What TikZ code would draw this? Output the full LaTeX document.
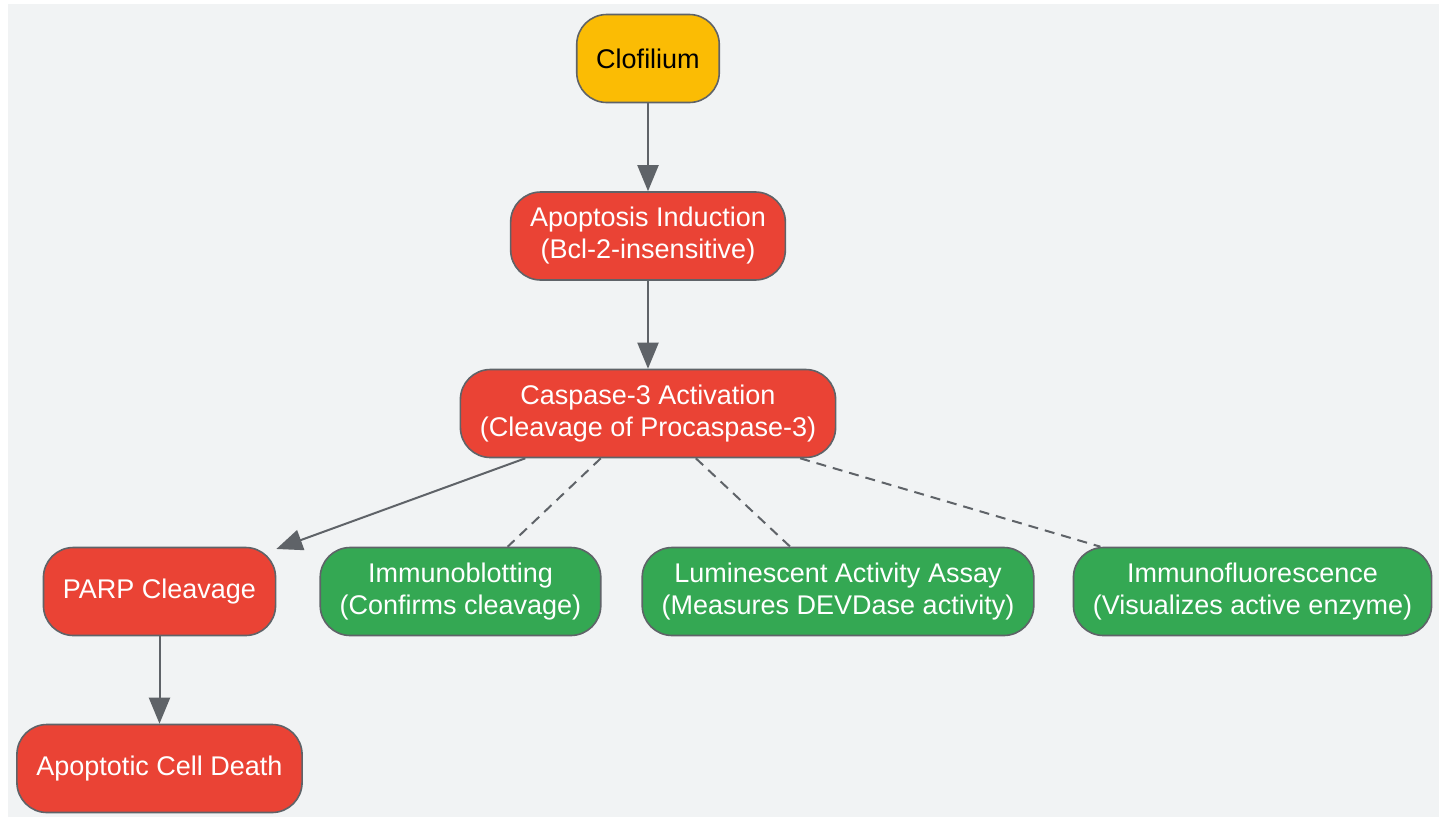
\documentclass[tikz,border=0pt]{standalone}
\usepackage{fontspec}
\setmainfont{Liberation Sans}
\usetikzlibrary{arrows.meta}

\definecolor{bggray}{HTML}{F1F3F4}
\definecolor{linegray}{HTML}{5F6368}
\definecolor{boxred}{HTML}{EA4335}
\definecolor{boxgreen}{HTML}{34A853}
\definecolor{boxyellow}{HTML}{FBBC04}

\tikzset{
  box/.style={draw=linegray, line width=1.6pt, rounded corners=30pt,
    minimum height=88pt, inner xsep=19.5pt, align=center,
    font=\fontsize{27}{32}\selectfont},
  redbox/.style={box, fill=boxred, text=white},
  greenbox/.style={box, fill=boxgreen, text=white},
  yellowbox/.style={box, fill=boxyellow, text=black},
  arrow/.style={draw=linegray, line width=2pt, -{Triangle[length=26pt,width=21pt]}},
  dashline/.style={draw=linegray, line width=2pt, dash pattern=on 10pt off 7pt},
}

\begin{document}
\begin{tikzpicture}[x=1pt,y=-1pt]
    % Canvas and background
    \useasboundingbox (0,0) rectangle (1445,817);
    \fill[bggray] (8,4) rectangle (1439,817);

    % Main chain
    \node[yellowbox] (clof) at (648,58.5) {Clofilium};
    \node[redbox] (induct) at (648,236) {Apoptosis Induction\\(Bcl-2-insensitive)};
    \node[redbox] (casp) at (648,413.5) {Caspase-3 Activation\\(Cleavage of Procaspase-3)};
    \node[redbox] (parp) at (159.5,591.5) {PARP Cleavage};
    \node[redbox] (death) at (159.5,768.5) {Apoptotic Cell Death};

    % Detection methods
    \node[greenbox] (blot) at (460.5,591.5) {Immunoblotting\\(Confirms cleavage)};
    \node[greenbox] (lumi) at (838,591.5) {Luminescent Activity Assay\\(Measures DEVDase activity)};
    \node[greenbox] (fluor) at (1252.5,591.5) {Immunofluorescence\\(Visualizes active enzyme)};

    % Solid arrows
    \draw[arrow] (clof) -- (induct);
    \draw[arrow] (induct) -- (casp);
    \draw[arrow] (casp) -- (parp);
    \draw[arrow] (parp) -- (death);

    % Dashed links to the assays
    \draw[dashline] (casp) -- (blot);
    \draw[dashline] (casp) -- (lumi);
    \draw[dashline] (casp) -- (fluor);
\end{tikzpicture}
\end{document}
